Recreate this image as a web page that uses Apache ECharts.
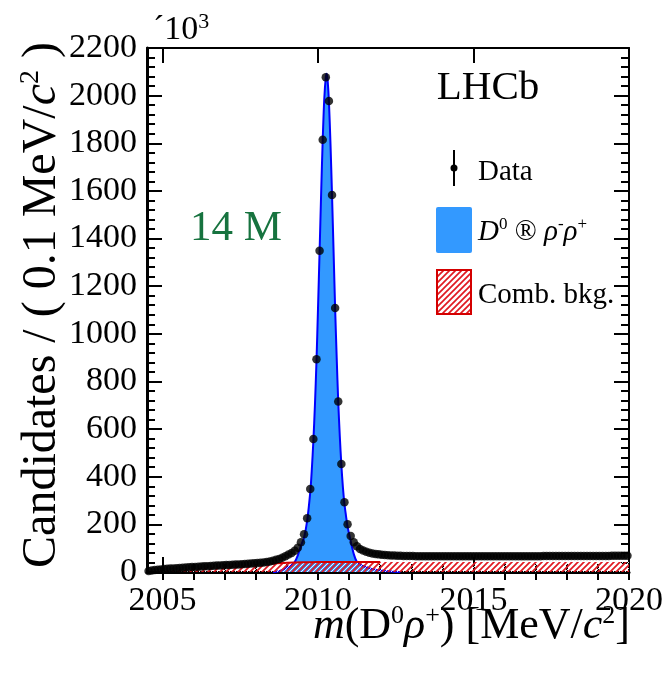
<!DOCTYPE html>
<html>
<head>
<meta charset="utf-8">
<script src="https://cdn.jsdelivr.net/npm/echarts@6/dist/echarts.min.js"></script>
<style>
  html, body { margin: 0; padding: 0; background: #ffffff; }
  #chart { width: 669px; height: 675px; }
</style>
</head>
<body>
<div id="chart"></div>
<script>
// Histogram binning of m(D0 pi+): 0.1 MeV bins starting at 2004.5 MeV
const binLow = 2004.5;
const binWidth = 0.1;

// Candidates per bin, in units of 10^3
const dataCounts = [
  4, 6, 8, 9.5, 11, 12.2, 13.2, 14.2, 15.2, 16.2,
  17.1, 18, 18.9, 19.8, 20.6, 21.4, 22.2, 23, 23.8, 24.6,
  25.4, 26.2, 27, 27.8, 28.5, 29.2, 29.9, 30.6, 31.3, 32,
  32.8, 33.6, 34.5, 35.4, 36.3, 37.3, 38.5, 40, 42, 44.5,
  47.5, 51, 55, 60, 66, 73, 80, 89, 102, 125,
  158, 226, 348, 558, 893, 1349, 1815, 2077, 1977, 1583,
  1108, 716, 453, 293, 200, 151, 125,
  108, 97, 90, 85, 81, 78, 76, 74, 72.5, 71.5,
  70.5, 69.5, 69, 68.5, 68, 67.5, 67, 67,
  66.8, 66.6, 66.5, 66.4, 66.3, 66.2, 66.2, 66.1, 66.1, 66,
  66, 66, 65.9, 65.9, 65.9, 65.9, 65.9, 65.9, 65.9, 65.9,
  66, 66, 66, 66, 66, 66.1, 66.1, 66.1, 66.2, 66.2,
  66.2, 66.3, 66.3, 66.3, 66.4, 66.4, 66.4, 66.5, 66.5, 66.5,
  66.6, 66.6, 66.7, 66.7, 66.8, 66.8, 66.9, 66.9, 67, 67,
  67.1, 67.1, 67.2, 67.2, 67.3, 67.3, 67.4, 67.4, 67.5, 67.5,
  67.6, 67.6, 67.7, 67.7, 67.8, 67.8, 67.9, 67.9, 68, 68
];

// Signal component (D0 -> pi- pi+) of the fit
const signalMass = [
  2008.55, 2008.65, 2008.75, 2008.85, 2008.95, 2009.05, 2009.15, 2009.25, 2009.35, 2009.45,
  2009.55, 2009.65, 2009.75, 2009.80, 2009.85, 2009.90, 2009.95, 2010.00, 2010.05, 2010.10,
  2010.15, 2010.20, 2010.25, 2010.28, 2010.31, 2010.35, 2010.40, 2010.45, 2010.50, 2010.55,
  2010.60, 2010.65, 2010.70, 2010.75, 2010.80, 2010.85, 2010.90, 2010.95, 2011.05, 2011.15,
  2011.25, 2011.35, 2011.45, 2011.65, 2011.85, 2012.05, 2012.25, 2012.45, 2012.65
];
const signalYield = [
  0, 1, 4, 9, 15, 22, 30, 42, 70, 110,
  145, 215, 335, 430, 550, 700, 885, 1110, 1345, 1590,
  1812, 1985, 2078, 2092, 2062, 1975, 1800, 1582, 1345, 1106,
  900, 714, 570, 450, 355, 285, 235, 190, 130, 75,
  42, 32, 25, 16, 10, 6, 3, 1, 0
];

// Combinatorial background component
const combMass = [
  2004.55, 2004.75, 2005.0, 2005.5, 2006.0, 2006.5, 2007.0, 2007.5, 2008.0, 2008.5,
  2009.0, 2009.5, 2010.0, 2010.5, 2011.0, 2012.0, 2013.0, 2014.0, 2015.0, 2016.0,
  2017.0, 2018.0, 2019.0, 2020.0
];
const combYield = [
  0, 2, 5, 10, 16, 20, 24, 27.5, 31, 35,
  38.5, 40.5, 41.5, 42, 42, 42, 42, 42, 42, 42,
  42, 42, 42, 42
];
// Range where the background outline is drawn solid
const combOutlineRange = [2008.2, 2012.3];

// Axis ticks
const xMajorTicks = [2005, 2010, 2015, 2020];
const xMinorTicks = [2005, 2006, 2007, 2008, 2009, 2010, 2011, 2012, 2013, 2014, 2015, 2016, 2017, 2018, 2019, 2020];
const xRange = [2004.5, 2020];
const yRange = [0, 2200];
const yStep = 200;

const serif = '"Liberation Serif", "Times New Roman", serif';

const dataPoints = dataCounts.map((v, i) => [+(binLow + binWidth * (i + 0.5)).toFixed(2), v]);
const signalPoints = signalMass.map((m, i) => [m, signalYield[i]]);
const combPoints = combMass.map((m, i) => [m, combYield[i]]);
const combOutline = combPoints.filter(p => p[0] >= combOutlineRange[0] && p[0] <= combOutlineRange[1]);

function hatchPattern() {
  const c = document.createElement('canvas');
  c.width = 6; c.height = 6;
  const g = c.getContext('2d');
  g.lineCap = 'square';
  g.strokeStyle = 'rgba(255,255,255,0.9)';
  g.lineWidth = 1;
  g.beginPath();
  g.moveTo(0, 3); g.lineTo(3, 0);
  g.moveTo(3, 6); g.lineTo(6, 3);
  g.stroke();
  g.strokeStyle = '#e01a22';
  g.lineWidth = 1.7;
  g.beginPath();
  g.moveTo(-1, 7); g.lineTo(7, -1);
  g.moveTo(-1, 1); g.lineTo(1, -1);
  g.moveTo(5, 7); g.lineTo(7, 5);
  g.stroke();
  return c;
}
const hatch = { image: hatchPattern(), repeat: 'repeat' };

const tickLine = { color: '#000', width: 2 };
const plainNumber = v => String(v);

function xAxisDef(position, ticks, len, opts) {
  return Object.assign({
    type: 'value', position: position, min: xRange[0], max: xRange[1],
    axisLine: { show: false },
    axisTick: { show: true, inside: true, length: len, customValues: ticks, lineStyle: tickLine },
    axisLabel: { show: false },
    splitLine: { show: false }
  }, opts || {});
}

const chart = echarts.init(document.getElementById('chart'), null, { renderer: 'canvas' });

chart.setOption({
  animation: false,
  backgroundColor: '#ffffff',
  grid: { left: 147, right: 40, top: 48, bottom: 103, containLabel: false },
  xAxis: [
    xAxisDef('bottom', xMajorTicks, 15, {
      axisLine: { show: true, onZero: false, lineStyle: { color: '#000', width: 3 } },
      axisLabel: {
        show: true, customValues: xMajorTicks, margin: 12, formatter: plainNumber,
        fontFamily: serif, fontSize: 34, color: '#000'
      }
    }),
    xAxisDef('bottom', xMinorTicks, 8),
    xAxisDef('top', xMajorTicks, 15, {
      axisLine: { show: true, onZero: false, lineStyle: { color: '#000', width: 2 } }
    }),
    xAxisDef('top', xMinorTicks, 8)
  ],
  yAxis: [
    {
      type: 'value', position: 'left', min: yRange[0], max: yRange[1], interval: yStep,
      axisLine: { show: true, onZero: false, lineStyle: { color: '#000', width: 3 } },
      axisTick: { show: true, inside: true, length: 15, lineStyle: tickLine },
      minorTick: { show: true, splitNumber: 5, length: 8, lineStyle: tickLine },
      axisLabel: { show: true, margin: 10, formatter: plainNumber, fontFamily: serif, fontSize: 34, color: '#000' },
      splitLine: { show: false }
    },
    {
      type: 'value', position: 'right', min: yRange[0], max: yRange[1], interval: yStep,
      axisLine: { show: true, onZero: false, lineStyle: { color: '#000', width: 2 } },
      axisTick: { show: true, inside: true, length: 15, lineStyle: tickLine },
      minorTick: { show: true, splitNumber: 5, length: 8, lineStyle: tickLine },
      axisLabel: { show: false },
      splitLine: { show: false }
    }
  ],
  series: [
    {
      name: 'signal', type: 'line', data: signalPoints, smooth: 0.3, showSymbol: false,
      lineStyle: { color: '#0000ff', width: 2 },
      areaStyle: { color: '#3399ff', opacity: 1, origin: 'start' },
      z: 2, silent: true
    },
    {
      name: 'comb', type: 'line', data: combPoints, smooth: 0.3, showSymbol: false,
      lineStyle: { width: 0 },
      areaStyle: { color: hatch, opacity: 1, origin: 'start' },
      z: 3, silent: true
    },
    {
      name: 'combOutline', type: 'line', data: combOutline, smooth: 0.3, showSymbol: false,
      lineStyle: { color: '#d40000', width: 2 },
      z: 4, silent: true
    },
    {
      name: 'data', type: 'scatter', data: dataPoints, symbol: 'circle', symbolSize: 8.5,
      itemStyle: { color: '#000' },
      z: 6, silent: true
    }
  ],
  graphic: [
    // y-axis title
    {
      type: 'text', x: 42, y: 305, rotation: Math.PI / 2,
      style: {
        text: 'Candidates / ( 0.1 MeV/{i|c}{sup|2} )',
        fontFamily: serif, fontSize: 48, fill: '#000',
        align: 'center', verticalAlign: 'middle',
        rich: {
          i: { fontFamily: serif, fontSize: 48, fontStyle: 'italic', fill: '#000' },
          sup: { fontFamily: serif, fontSize: 28, fill: '#000', padding: [0, 0, 22, 0] }
        }
      }
    },
    // x-axis title
    {
      type: 'text', x: 630, y: 626,
      style: {
        text: '{i|m}(D{sup|0}{i|ρ}{sup|+}) [MeV/{i|c}{sup|2}]',
        fontFamily: serif, fontSize: 44, fill: '#000',
        align: 'right', verticalAlign: 'middle',
        rich: {
          i: { fontFamily: serif, fontSize: 44, fontStyle: 'italic', fill: '#000' },
          sup: { fontFamily: serif, fontSize: 26, fill: '#000', padding: [0, 0, 20, 0] }
        }
      }
    },
    // exponent
    {
      type: 'text', x: 153, y: 30,
      style: {
        text: '´10{sup|3}', fontFamily: serif, fontSize: 34, fill: '#000',
        align: 'left', verticalAlign: 'middle',
        rich: { sup: { fontFamily: serif, fontSize: 22, fill: '#000', padding: [0, 0, 16, 0] } }
      }
    },
    // experiment label
    {
      type: 'text', x: 488, y: 88,
      style: { text: 'LHCb', fontFamily: serif, fontSize: 41, fill: '#000', align: 'center', verticalAlign: 'middle' }
    },
    // yield annotation
    {
      type: 'text', x: 236, y: 229,
      style: { text: '14 M', fontFamily: serif, fontSize: 43, fill: '#17733f', align: 'center', verticalAlign: 'middle' }
    },
    // legend: data
    { type: 'line', shape: { x1: 454, y1: 150, x2: 454, y2: 186 }, style: { stroke: '#000', lineWidth: 2 } },
    { type: 'circle', shape: { cx: 454, cy: 168, r: 3.5 }, style: { fill: '#000' } },
    {
      type: 'text', x: 478, y: 172,
      style: { text: 'Data', fontFamily: serif, fontSize: 29, fill: '#000', align: 'left', verticalAlign: 'middle' }
    },
    // legend: signal
    { type: 'rect', shape: { x: 436, y: 207, width: 36, height: 46, r: 2 }, style: { fill: '#3399ff' } },
    {
      type: 'text', x: 478, y: 232,
      style: {
        text: '{i|D}{sup|0} ® {i|ρ}{sup|-}{i|ρ}{sup|+}',
        fontFamily: serif, fontSize: 29, fill: '#000', align: 'left', verticalAlign: 'middle',
        rich: {
          i: { fontFamily: serif, fontSize: 29, fontStyle: 'italic', fill: '#000' },
          sup: { fontFamily: serif, fontSize: 17, fill: '#000', padding: [0, 0, 14, 0] }
        }
      }
    },
    // legend: combinatorial background
    { type: 'rect', shape: { x: 437, y: 270, width: 34, height: 44 }, style: { fill: hatch, stroke: '#d40000', lineWidth: 2 } },
    {
      type: 'text', x: 478, y: 295,
      style: { text: 'Comb. bkg.', fontFamily: serif, fontSize: 29, fill: '#000', align: 'left', verticalAlign: 'middle' }
    }
  ]
});
</script>
</body>
</html>
